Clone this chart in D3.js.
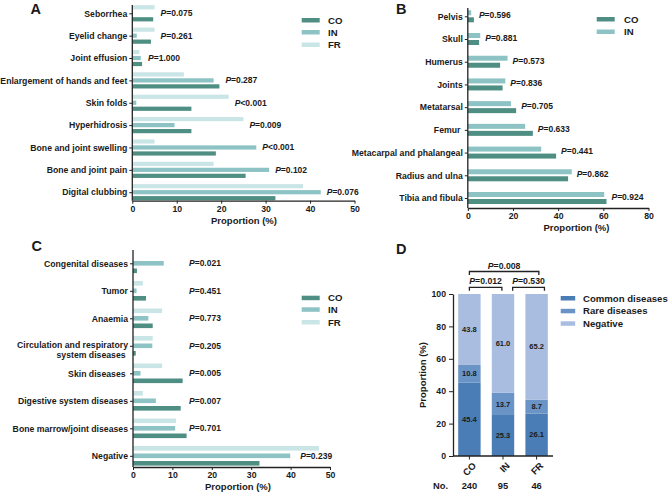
<!DOCTYPE html>
<html>
<head>
<meta charset="utf-8">
<script src="https://cdn.jsdelivr.net/npm/d3@7"></script>
<style>
body { margin: 0; background: #fff; }
text { font-family: "Liberation Sans", Arial, sans-serif; font-weight: bold; fill: #1a1a1a; }
</style>
</head>
<body>
<div id="main"></div>
<script>
const ctx = { w: 669, h: 497 };
const COLORS = { CO: "#4f8e83", IN: "#8dc3c5", FR: "#c9e5e6" };

// panel A : clinical features
const catsA = ["Seborrhea", "Eyelid change", "Joint effusion", "Enlargement of hands and feet", "Skin folds",
    "Hyperhidrosis", "Bone and joint swelling", "Bone and joint pain", "Digital clubbing"];
const coA = [4.7, 4.2, 2.2, 19.6, 13.3, 13.3, 18.8, 25.5, 32.2];
const inA = [0, 1.0, 1.9, 18.3, 0.9, 9.5, 27.9, 30.8, 42.4];
const frA = [5.0, 5.0, 1.6, 11.6, 21.7, 25.0, 5.0, 18.3, 38.4];
const pA = ["=0.075", "=0.261", "=1.000", "=0.287", "<0.001", "=0.009", "<0.001", "=0.102", "=0.076"];
const ticksA = [0, 10, 20, 30, 40, 50];

// panel B : sites
const catsB = ["Pelvis", "Skull", "Humerus", "Joints", "Metatarsal", "Femur\u00a0",
    "Metacarpal and phalangeal", "Radius and ulna", "Tibia and fibula"];
const coB = [2.7, 5.0, 14.3, 15.4, 21.4, 28.8, 39.1, 44.4, 61.4];
const inB = [1.5, 5.5, 17.6, 16.6, 19.1, 25.4, 32.5, 46.0, 60.4];
const pB = ["=0.596", "=0.881", "=0.573", "=0.836", "=0.705", "=0.633", "=0.441", "=0.862", "=0.924"];
const ticksB = [0, 20, 40, 60, 80];

// panel C : comorbidities
const catsC = ["Congenital diseases", "Tumor", "Anaemia", "Circulation and respiratory|system diseases\u00a0",
    "Skin diseases\u00a0", "Digestive system diseases", "Bone marrow/joint diseases", "Negative"];
const coC = [1.0, 3.3, 5.0, 0.7, 12.6, 12.1, 13.6, 32.1];
const inC = [7.8, 0.9, 3.9, 4.9, 1.9, 5.8, 10.7, 39.9];
const frC = [0, 2.5, 7.4, 5.0, 7.4, 2.5, 10.9, 47.2];
const pC = ["=0.021", "=0.451", "=0.773", "=0.205", "=0.005", "=0.007", "=0.701", "=0.239"];
const ticksC = [0, 10, 20, 30, 40, 50];

// panel D : stacked proportions
const groupsD = ["CO", "IN", "FR"];
const countsD = [240, 95, 46];
const layersD = ["Common diseases", "Rare diseases", "Negative"];
const commonD = [45.4, 25.3, 26.1];
const rareD = [10.8, 13.7, 8.7];
const negativeD = [43.8, 61.0, 65.2];
const ticksD = [0, 20, 40, 60, 80, 100];
const testsD = [["CO", "IN", "=0.012"], ["IN", "FR", "=0.530"], ["CO", "FR", "=0.008"]];

function pLabel(sel, val) {
    sel.append("tspan").attr("font-style", "italic").text("P");
    sel.append("tspan").text(val);
}

function legend(g, items, x0, ys, tx) {
    items.forEach((it, i) => {
        g.append("rect").attr("x", x0).attr("y", ys[i]).attr("width", it.w || 18).attr("height", 4.5).attr("fill", it.color);
        g.append("text").attr("x", tx).attr("y", ys[i] + 2.25).attr("dy", "0.35em")
            .attr("font-size", 9.6).text(it.name);
    });
}

function hbarPanel(g, cfg) {
    const x = d3.scaleLinear().domain(cfg.domain).range(cfg.xRange);
    const y = d3.scalePoint().domain(cfg.cats).range(cfg.yRange);
    const n = cfg.series.length;

    cfg.series.forEach((s, i) => {
        const off = (i - (n - 1) / 2) * cfg.step - cfg.barH / 2;
        g.append("g").attr("fill", s.color)
            .selectAll("rect")
            .data(s.values.map((v, j) => ({ cat: cfg.cats[j], v: v })))
            .join("rect")
            .attr("x", x(0))
            .attr("y", d => y(d.cat) + off)
            .attr("width", d => x(d.v) - x(0))
            .attr("height", cfg.barH);
    });

    // y axis
    const ya = g.append("g").attr("transform", `translate(${x(0)},0)`)
        .call(d3.axisLeft(y).tickSize(3).tickPadding(2))
        .attr("font-size", 8.7).attr("font-family", null);
    ya.select(".domain").remove();
    ya.selectAll(".tick line").attr("stroke", "#222").attr("stroke-width", 1);
    ya.selectAll(".tick text").each(function (d) {
        const parts = d.split("|");
        if (parts.length > 1) {
            const t = d3.select(this).text(null);
            parts.forEach((p, k) => t.append("tspan").attr("x", -5).attr("dy", k === 0 ? "0.2em" : "1.2em").text(p));
        }
    });
    g.append("line").attr("x1", x(0)).attr("x2", x(0)).attr("y1", cfg.axisTop).attr("y2", cfg.axisBottom)
        .attr("stroke", "#222").attr("stroke-width", 1.3);

    // x axis
    const xa = g.append("g").attr("transform", `translate(0,${cfg.axisBottom})`)
        .call(d3.axisBottom(x).tickValues(cfg.ticks).tickSize(3).tickSizeOuter(0).tickPadding(2))
        .attr("font-size", 8.7).attr("font-family", null);
    xa.select(".domain").attr("stroke", "#222").attr("stroke-width", 1.3);
    xa.selectAll(".tick line").attr("stroke", "#222").attr("stroke-width", 1);
    g.append("text").attr("x", cfg.titleX).attr("y", cfg.axisBottom + 23).attr("text-anchor", "middle")
        .attr("font-size", 9.5).text("Proportion (%)");

    // p values
    g.append("g").selectAll("text")
        .data(cfg.p.map((p, j) => ({ p: p, j: j })))
        .join("text")
        .attr("x", d => cfg.pX(x, d.j))
        .attr("y", d => y(cfg.cats[d.j]) + cfg.pDy)
        .attr("font-size", 8.5)
        .each(function (d) { pLabel(d3.select(this), d.p); });
}

function createViz() {
    const svg = d3.select("#main").append("svg").attr("width", ctx.w).attr("height", ctx.h);
    const root = svg.append("g").attr("id", "rootG");

    // ---------- A
    const gA = root.append("g");
    hbarPanel(gA, {
        cats: catsA, domain: [0, 50], xRange: [132.3, 354.5], yRange: [13.3, 192.2],
        series: [{ color: COLORS.FR, values: frA }, { color: COLORS.IN, values: inA }, { color: COLORS.CO, values: coA }],
        step: 6, barH: 4.2, axisTop: 5, axisBottom: 200.7, ticks: ticksA, titleX: 244,
        p: pA, pDy: 3, pX: (x, j) => x(Math.max(coA[j], inA[j], frA[j])) + 6
    });
    legend(gA, [{ name: "CO", color: COLORS.CO }, { name: "IN", color: COLORS.IN }, { name: "FR", color: COLORS.FR }],
        301.7, [18, 30, 42.5], 328);
    root.append("text").attr("x", 30.5).attr("y", 14).attr("font-size", 14.5).text("A");

    // ---------- B
    const gB = root.append("g");
    hbarPanel(gB, {
        cats: catsB, domain: [0, 80], xRange: [467.8, 648.5], yRange: [16.3, 198],
        series: [{ color: COLORS.IN, values: inB }, { color: COLORS.CO, values: coB }],
        step: 7, barH: 5, axisTop: 8, axisBottom: 208, ticks: ticksB, titleX: 576.5,
        p: pB, pDy: 1.8, pX: (x, j) => x(Math.max(coB[j], inB[j])) + 5
    });
    legend(gB, [{ name: "CO", color: COLORS.CO }, { name: "IN", color: COLORS.IN }], 596.7, [17, 29.5], 624);
    root.append("text").attr("x", 396).attr("y", 14).attr("font-size", 14.5).text("B");

    // ---------- C
    const gC = root.append("g");
    hbarPanel(gC, {
        cats: catsC, domain: [0, 50], xRange: [133, 330], yRange: [263.3, 455.8],
        series: [{ color: COLORS.FR, values: frC }, { color: COLORS.IN, values: inC }, { color: COLORS.CO, values: coC }],
        step: 7.5, barH: 4.6, axisTop: 250, axisBottom: 467, ticks: ticksC, titleX: 238,
        p: pC, pDy: 3, pX: (x, j) => Math.max(189, x(inC[j]) + 10)
    });
    legend(gC, [{ name: "CO", color: COLORS.CO }, { name: "IN", color: COLORS.IN }, { name: "FR", color: COLORS.FR }],
        301.7, [295.7, 307.3, 320], 328);
    root.append("text").attr("x", 31.5).attr("y", 250.5).attr("font-size", 14.5).text("C");

    // ---------- D
    const gD = root.append("g");
    const dCol = { "Common diseases": "#4a7db5", "Rare diseases": "#6b94c6", "Negative": "#a8bde0" };
    const rows = groupsD.map((gname, i) => ({
        group: gname, "Common diseases": commonD[i], "Rare diseases": rareD[i], "Negative": negativeD[i]
    }));
    const stack = d3.stack().keys(layersD)(rows);
    const xD = d3.scaleBand().domain(groupsD).range([447, 559]).paddingInner(0.333).paddingOuter(0.333);
    const yD = d3.scaleLinear().domain([0, 100]).range([456, 294]);

    stack.forEach(layer => {
        const lg = gD.append("g");
        lg.selectAll("rect").data(layer).join("rect")
            .attr("x", d => xD(d.data.group)).attr("width", xD.bandwidth())
            .attr("y", d => yD(d[1])).attr("height", d => yD(d[0]) - yD(d[1]))
            .attr("fill", dCol[layer.key]);
        lg.selectAll("text").data(layer).join("text")
            .attr("x", d => xD(d.data.group) + xD.bandwidth() / 2)
            .attr("y", d => yD((d[0] + d[1]) / 2)).attr("dy", "0.35em")
            .attr("text-anchor", "middle").attr("font-size", 7.5)
            .text(d => d3.format(".1f")(d[1] - d[0]));
    });

    const yaD = gD.append("g").attr("transform", "translate(453,0)")
        .call(d3.axisLeft(yD).tickValues(ticksD).tickSize(4).tickSizeOuter(0).tickPadding(3))
        .attr("font-size", 8.7).attr("font-family", null);
    yaD.select(".domain").attr("stroke", "#222").attr("stroke-width", 1.3);
    yaD.selectAll(".tick line").attr("stroke", "#222").attr("stroke-width", 1);

    // x axis: baseline plus a small tick under each bar
    gD.append("line").attr("x1", 453).attr("x2", 553).attr("y1", 456).attr("y2", 456)
        .attr("stroke", "#222").attr("stroke-width", 1.3);
    gD.selectAll(".xt").data(groupsD).join("line")
        .attr("x1", d => xD(d) + xD.bandwidth() / 2).attr("x2", d => xD(d) + xD.bandwidth() / 2)
        .attr("y1", 456).attr("y2", 459.5).attr("stroke", "#222").attr("stroke-width", 1);
    gD.append("text").attr("transform", "translate(425.5,375) rotate(-90)").attr("text-anchor", "middle")
        .attr("font-size", 9.5).text("Proportion (%)");

    gD.selectAll(".glab").data(groupsD).join("text")
        .attr("transform", d => `translate(${xD(d) + xD.bandwidth() / 2 + 5},464) rotate(-45)`)
        .attr("text-anchor", "end").attr("dy", "0.35em").attr("font-size", 9.5).text(d => d);
    gD.append("text").attr("x", 433).attr("y", 489).attr("font-size", 9.3).text("No.");
    gD.selectAll(".cnt").data(countsD).join("text")
        .attr("x", (d, i) => xD(groupsD[i]) + xD.bandwidth() / 2).attr("y", 489)
        .attr("text-anchor", "middle").attr("font-size", 9.3).text(d => d);

    // significance brackets
    const bx = (gname, f) => xD(gname) + xD.bandwidth() * f;
    const brk = [
        { x1: bx("CO", 0.5), x2: bx("IN", 0.45), y: 287.3, t: testsD[0][2] },
        { x1: bx("IN", 0.93), x2: bx("FR", 0.85), y: 287.3, t: testsD[1][2] },
        { x1: bx("CO", 0.5), x2: bx("FR", 0.6), y: 271.5, t: testsD[2][2] }
    ];
    brk.forEach(b => {
        gD.append("path")
            .attr("d", `M${b.x1},${b.y + 3.5}V${b.y}H${b.x2}V${b.y + 3.5}`)
            .attr("fill", "none").attr("stroke", "#222").attr("stroke-width", 1.3);
        gD.append("text").attr("x", (b.x1 + b.x2) / 2).attr("y", b.y - 3).attr("text-anchor", "middle")
            .attr("font-size", 8.7).call(s => pLabel(s, b.t));
    });

    legend(gD, layersD.map(k => ({ name: k, color: dCol[k], w: 14.5 })), 560.7, [296, 308.8, 321.3], 583);
    root.append("text").attr("x", 396).attr("y", 253.5).attr("font-size", 14.5).text("D");
}

createViz();
</script>
</body>
</html>
